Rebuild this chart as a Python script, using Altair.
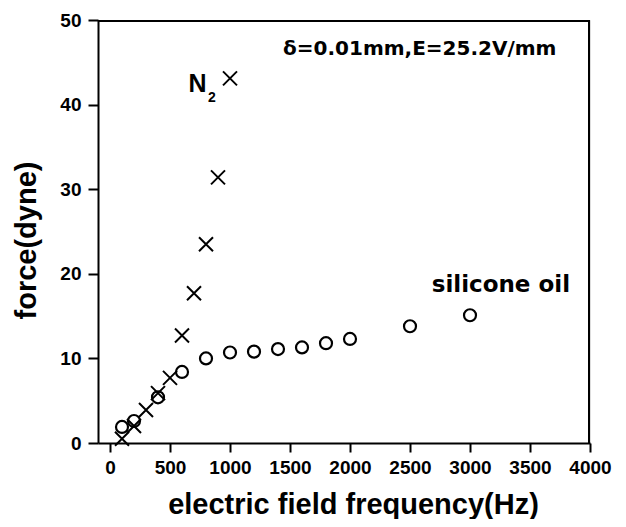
import altair as alt
import pandas as pd

# N2 (crosses)
n2_freq = [100, 200, 300, 400, 500, 600, 700, 800, 900, 1000]
n2_force = [0.5, 2.0, 3.9, 5.9, 7.7, 12.7, 17.7, 23.5, 31.4, 43.1]

# silicone oil (open circles)
oil_freq = [100, 200, 400, 600, 800, 1000, 1200, 1400, 1600, 1800, 2000, 2500, 3000]
oil_force = [1.9, 2.6, 5.4, 8.4, 10.0, 10.7, 10.8, 11.1, 11.3, 11.8, 12.3, 13.8, 15.1]

x_ticks = [0, 500, 1000, 1500, 2000, 2500, 3000, 3500, 4000]
y_ticks = [0, 10, 20, 30, 40, 50]
x_domain = [-100, 4000]
y_domain = [0, 50]

# annotation labels (data coordinates)
note_text = ["δ=0.01mm,E=25.2V/mm", "silicone oil"]
note_x = [1442, 2681]
note_y = [45.9, 17.9]
note_size = [20, 23]

n2_label_x = [655]
n2_label_y = [41.5]
n2_sub_x = [817]
n2_sub_y = [40.3]

n2_df = pd.DataFrame({"f": n2_freq, "F": n2_force})
oil_df = pd.DataFrame({"f": oil_freq, "F": oil_force})
note_df = pd.DataFrame({"t": note_text, "f": note_x, "F": note_y, "s": note_size})
nlab_df = pd.DataFrame({"t": ["N"], "f": n2_label_x, "F": n2_label_y})
nsub_df = pd.DataFrame({"t": ["2"], "f": n2_sub_x, "F": n2_sub_y})

x_scale = alt.Scale(domain=x_domain, nice=False, zero=False)
y_scale = alt.Scale(domain=y_domain, nice=False)

x_axis = alt.Axis(
    title="electric field frequency(Hz)", values=x_ticks, grid=False, format="d",
    tickSize=9, tickWidth=2, tickColor="black",
    domainColor="black", domainWidth=2,
    labelFont="Liberation Sans", labelFontSize=19, labelFontWeight=700,
    labelColor="black", labelPadding=6, labelFlush=False,
    titleFont="Liberation Sans", titleFontSize=29, titleFontWeight=700,
    titleColor="black", titleX=255, titleY=70, titleBaseline="alphabetic",
)
y_axis = alt.Axis(
    title="force(dyne)", values=y_ticks, grid=False, format="d",
    tickSize=10, tickWidth=2, tickColor="black",
    domainColor="black", domainWidth=2,
    labelFont="Liberation Sans", labelFontSize=19, labelFontWeight=700,
    labelColor="black", labelPadding=7, labelFlush=False,
    titleFont="Liberation Sans", titleFontSize=29, titleFontWeight=700,
    titleColor="black", titleX=-63, titleY=220, titleBaseline="alphabetic",
)

X = alt.X("f:Q", scale=x_scale, axis=x_axis)
Y = alt.Y("F:Q", scale=y_scale, axis=y_axis)

# frame lines along the top and right edges, drawn in pixel space of the plot
top_edge = alt.Chart(oil_df.head(1)).mark_rule(color="#000000", strokeWidth=2, opacity=1).encode(
    x=alt.value(0), x2=alt.value(492), y=alt.value(1), y2=alt.value(1)
)
right_edge = alt.Chart(oil_df.head(1)).mark_rule(color="#000000", strokeWidth=2, opacity=1).encode(
    x=alt.value(491), x2=alt.value(491), y=alt.value(0), y2=alt.value(423)
)

oil = alt.Chart(oil_df).mark_point(
    shape="circle", filled=False, size=144, strokeWidth=2.2, color="black", opacity=1
).encode(x=X, y=Y)

n2 = alt.Chart(n2_df).mark_point(
    shape="M-1,-1L1,1M-1,1L1,-1", filled=False, size=196, strokeWidth=2, color="black", opacity=1
).encode(x=X, y=Y)

notes = alt.Chart(note_df).mark_text(
    align="left", baseline="alphabetic", font="DejaVu Sans", fontWeight="bold", color="black"
).encode(
    x=alt.X("f:Q", scale=x_scale), y=alt.Y("F:Q", scale=y_scale),
    text="t:N", size=alt.Size("s:Q", scale=None, legend=None),
)

nlab = alt.Chart(nlab_df).mark_text(
    align="left", baseline="alphabetic", font="Liberation Sans", fontWeight="bold",
    fontSize=25, color="black"
).encode(x=alt.X("f:Q", scale=x_scale), y=alt.Y("F:Q", scale=y_scale), text="t:N")

nsub = alt.Chart(nsub_df).mark_text(
    align="left", baseline="alphabetic", font="Liberation Sans", fontWeight="bold",
    fontSize=14, color="black"
).encode(x=alt.X("f:Q", scale=x_scale), y=alt.Y("F:Q", scale=y_scale), text="t:N")

chart = alt.layer(oil, n2, notes, nlab, nsub, top_edge, right_edge).properties(
    width=492, height=423,
    padding={"left": 90, "top": 12, "right": 28, "bottom": 76},
    autosize=alt.AutoSizeParams(type="none"),
).configure_view(stroke="black", strokeWidth=2).configure(background="white")

chart.save("out.html", embed_options={"renderer": "svg", "actions": False})
